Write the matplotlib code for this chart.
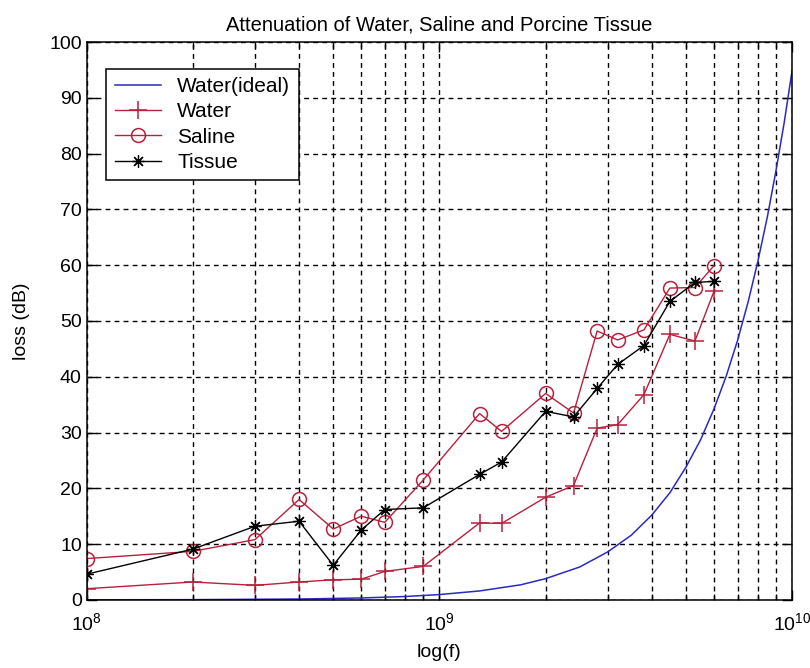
import numpy as np
import matplotlib
matplotlib.use("Agg")
import matplotlib.pyplot as plt
from matplotlib.ticker import LogLocator, MultipleLocator

plt.rcParams['font.family'] = ['Liberation Sans', 'DejaVu Sans']
plt.rcParams['mathtext.fontset'] = 'custom'
plt.rcParams['mathtext.rm'] = 'Liberation Sans'
plt.rcParams['mathtext.it'] = 'Liberation Sans'

# ---- data ----
freq = [1e8, 2e8, 3e8, 4e8, 5e8, 6e8, 7e8, 9e8, 1.3e9, 1.5e9, 2e9,
        2.4e9, 2.8e9, 3.2e9, 3.8e9, 4.5e9, 5.3e9, 6e9]
water = [2.0, 3.2, 2.6, 3.2, 3.6, 3.7, 5.1, 6.0, 13.8, 13.7, 18.4,
         20.5, 30.8, 31.4, 36.8, 47.6, 46.4, 55.3]
saline = [7.4, 8.7, 10.8, 18.0, 12.7, 15.0, 13.9, 21.5, 33.4, 30.2, 37.0,
          33.5, 48.2, 46.6, 48.4, 55.9, 56.0, 59.9]
tissue = [4.6, 9.1, 13.2, 14.1, 6.2, 12.5, 16.2, 16.5, 22.5, 24.7, 33.8,
          32.8, 37.9, 42.2, 45.6, 53.5, 56.9, 57.1]

freq_ideal = [1e8, 2e8, 4e8, 6e8, 8e8, 1e9, 1.3e9, 1.7e9, 2e9, 2.5e9, 3e9,
              3.5e9, 4e9, 4.5e9, 5e9, 5.5e9, 6e9, 6.5e9, 7e9, 7.5e9, 8e9,
              8.5e9, 9e9, 9.5e9, 1e10]
loss_ideal = [0.01, 0.04, 0.15, 0.34, 0.6, 0.95, 1.6, 2.7, 3.8, 5.9, 8.6,
              11.6, 15.2, 19.2, 23.8, 28.7, 34.2, 40.1, 46.5, 53.4, 60.8,
              68.6, 77.0, 85.7, 95.0]

blue = '#2a2ac0'
red = '#b8203c'

fig = plt.figure(figsize=(8.1, 6.68), dpi=100)
ax = fig.add_axes([0.107, 0.102, 0.871, 0.835])

ax.plot(freq_ideal, loss_ideal, color=blue, linewidth=1.1, label='Water(ideal)')
ax.plot(freq, water, color=red, linewidth=1.0, marker='+', markersize=13,
        markeredgewidth=1.1, label='Water')
ax.plot(freq, saline, color=red, linewidth=1.0, marker='o', markersize=10,
        markerfacecolor='none', markeredgewidth=1.1, label='Saline')
ax.plot(freq, tissue, color='black', linewidth=1.0, marker=(8, 2, 0), markersize=9,
        markeredgewidth=0.9, label='Tissue')

ax.set_xscale('log')
ax.set_xlim(1e8, 1e10)
ax.set_ylim(0, 100)
ax.yaxis.set_major_locator(MultipleLocator(10))
ax.xaxis.set_major_locator(LogLocator(base=10, numticks=5))
ax.xaxis.set_minor_locator(LogLocator(base=10, subs=np.arange(2, 10), numticks=20))

ax.grid(True, which='both', axis='x', color='black', linestyle=(0, (3.5, 3)), linewidth=1.0)
ax.grid(True, which='major', axis='y', color='black', linestyle=(0, (3.5, 3)), linewidth=1.0)

ax.tick_params(which='both', direction='in', top=True, right=True, labelsize=14)
ax.tick_params(which='major', length=7, width=1)
ax.tick_params(which='minor', length=4, width=1)
ax.tick_params(axis='x', which='major', pad=9)
ax.tick_params(axis='x', which='minor', labelbottom=False)
for s in ax.spines.values():
    s.set_linewidth(1.1)

ax.set_title('Attenuation of Water, Saline and Porcine Tissue', fontsize=14.5, pad=8)
ax.set_xlabel('log(f)', fontsize=14, labelpad=7)
ax.set_ylabel('loss (dB)', fontsize=14, labelpad=14)

leg = ax.legend(loc='upper left', bbox_to_anchor=(0.028, 0.952), borderaxespad=0,
                fontsize=15, fancybox=False, framealpha=1, edgecolor='black',
                handlelength=2.2, borderpad=0.4, labelspacing=0.3)
leg.get_frame().set_linewidth(1.1)

fig.savefig('out.png', dpi=100)
